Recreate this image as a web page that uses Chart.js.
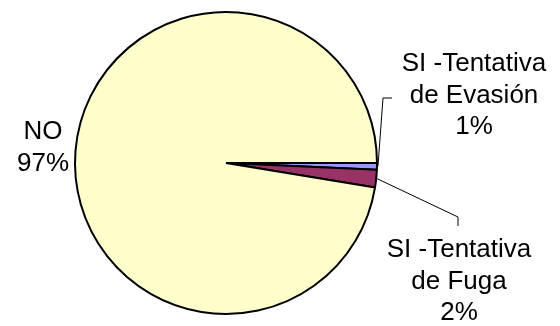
<!DOCTYPE html>
<html>
<head>
<meta charset="utf-8">
<script src="https://cdn.jsdelivr.net/npm/chart.js@4/dist/chart.umd.min.js"></script>
<style>
  html, body { margin: 0; padding: 0; background: #fff; }
  #wrap { width: 560px; height: 326px; position: relative; }
</style>
</head>
<body>
<div id="wrap"><canvas id="myChart"></canvas></div>
<script>
//
// data
//
const categories = ['SI -Tentativa de Evasión', 'SI -Tentativa de Fuga', 'NO'];
const values = [0.7, 1.9, 97.4];
const colors = ['#9999FF', '#993366', '#FFFFCC'];

// label lines for each slice (name split like the original)
const labelLines = [
    ['SI -Tentativa', 'de Evasión'],
    ['SI -Tentativa', 'de Fuga'],
    ['NO']
];

const FONT = "26px 'Liberation Sans', Arial, sans-serif";
const LINE_H = 31.5;

//
// labels + leader lines, placed relative to the pie
//
const pieLabels = {
    id: 'pieLabels',
    afterDatasetsDraw(chart) {
        const ctx = chart.ctx;
        const meta = chart.getDatasetMeta(0);
        const arc0 = meta.data[0];
        const cx = arc0.x, cy = arc0.y, r = arc0.outerRadius;
        const total = values.reduce((a, b) => a + b, 0);
        const pct = values.map(v => Math.round(v / total * 100) + '%');

        // label anchor offsets from the pie center
        const spots = [
            { x: cx + 248, y: cy - 99 },
            { x: cx + 233, y: cy + 87 },
            { x: cx - r - 32, y: cy - 31 }
        ];
        // leader lines: from slice edge to a knee, then a short tick
        const leaders = [
            [[cx + 157, cy - 65], [cx + 166, cy - 65]],
            [[cx + 232, cy + 54], [cx + 232, cy + 63]],
            null
        ];

        ctx.save();
        ctx.strokeStyle = '#000';
        ctx.lineWidth = 1;
        meta.data.forEach((arc, i) => {
            if (!leaders[i]) return;
            const mid = (arc.startAngle + arc.endAngle) / 2;
            const ex = cx + Math.cos(mid) * (r + 1);
            const ey = cy + Math.sin(mid) * (r + 1);
            ctx.beginPath();
            ctx.moveTo(ex, ey);
            leaders[i].forEach(p => ctx.lineTo(p[0], p[1]));
            ctx.stroke();
        });

        ctx.fillStyle = '#000';
        ctx.font = FONT;
        ctx.textAlign = 'center';
        ctx.textBaseline = 'middle';
        labelLines.forEach((lines, i) => {
            const all = lines.concat([pct[i]]);
            all.forEach((t, j) => {
                ctx.fillText(t, spots[i].x, spots[i].y + j * LINE_H);
            });
        });
        ctx.restore();
    }
};

//
// CHART
//
const myChart = new Chart(document.getElementById('myChart').getContext('2d'), {
    type: 'pie',
    data: {
        labels: categories,
        datasets: [{
            data: values,
            backgroundColor: colors,
            borderColor: '#000',
            borderWidth: 2
        }]
    },
    options: {
        responsive: true,
        maintainAspectRatio: false,
        animation: false,
        rotation: 90,
        layout: {
            padding: { left: 74, right: 182, top: 11, bottom: 11 }
        },
        plugins: {
            legend: { display: false },
            tooltip: { enabled: false }
        }
    },
    plugins: [pieLabels]
});
</script>
</body>
</html>
